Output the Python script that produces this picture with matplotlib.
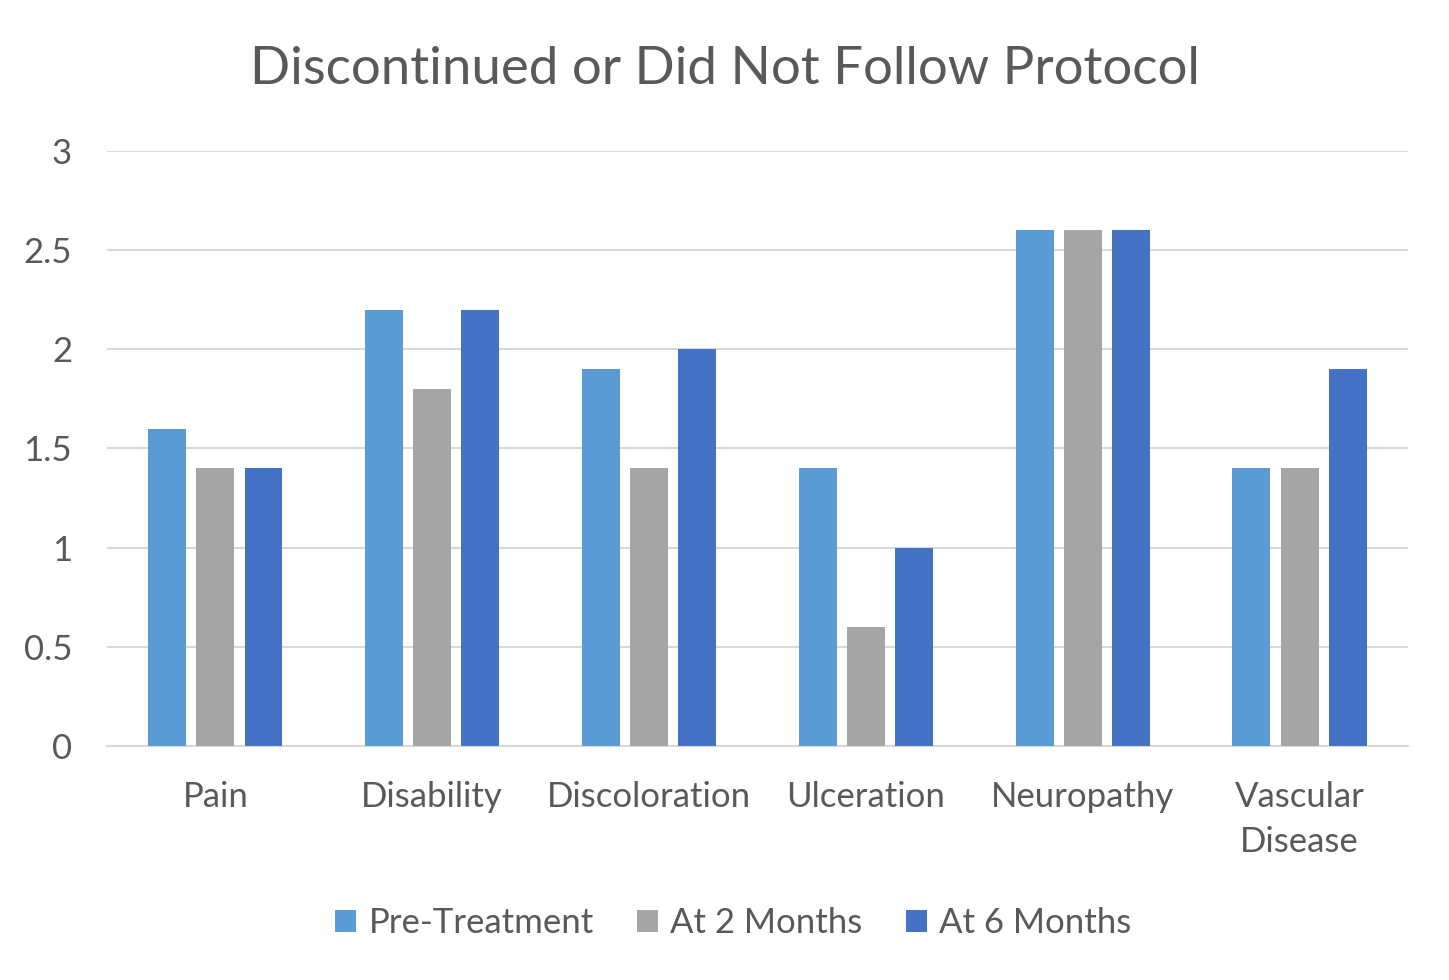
import matplotlib.pyplot as plt
import numpy as np

plt.rcParams['font.family'] = ['Lato', 'DejaVu Sans']

kategorie = ['Pain', 'Disability', 'Discoloration', 'Ulceration', 'Neuropathy', 'Vascular\nDisease']
serie = ['Pre-Treatment', 'At 2 Months', 'At 6 Months']
pre = [1.6, 2.2, 1.9, 1.4, 2.6, 1.4]
m2 = [1.4, 1.8, 1.4, 0.6, 2.6, 1.4]
m6 = [1.4, 2.2, 2.0, 1.0, 2.6, 1.9]
kolory = ['#5B9BD5', '#A5A5A5', '#4472C4']

fig = plt.figure(figsize=(14.49, 9.8), dpi=100)
ax = fig.add_axes([0.0738, 0.2388, 0.8979, 0.6071])

x = np.arange(len(kategorie))
szer = 0.175
odst = 0.222
for i, (vals, lab) in enumerate(zip([pre, m2, m6], serie)):
    ax.bar(x + (i - 1) * odst, vals, width=szer, color=kolory[i], label=lab, zorder=3)

ax.set_xlim(-0.5, len(kategorie) - 0.5)
ax.set_ylim(0, 3)
ax.set_yticks([0, 0.5, 1, 1.5, 2, 2.5, 3])
ax.set_yticklabels(['0', '0.5', '1', '1.5', '2', '2.5', '3'])
ax.set_xticks(x)
ax.set_xticklabels(kategorie, linespacing=1.5)
ax.tick_params(axis='both', length=0, labelsize=25, colors='#595959')
ax.tick_params(axis='x', pad=25)
ax.tick_params(axis='y', pad=25)
ax.grid(axis='y', color='#D9D9D9', linewidth=1.5, zorder=0)
for s in ['top', 'right', 'left']:
    ax.spines[s].set_visible(False)
ax.spines['bottom'].set_color('#D9D9D9')
ax.spines['bottom'].set_linewidth(1.5)

fig.suptitle('Discontinued or Did Not Follow Protocol', x=0.5, y=0.953, fontsize=38, color='#595959')

fig.legend(loc='center', bbox_to_anchor=(0.506, 0.058), ncol=3, frameon=False,
           fontsize=25, labelcolor='#595959', handlelength=0.6, handleheight=0.6,
           handletextpad=0.35, columnspacing=1.25)

plt.savefig('out.png', dpi=100)
